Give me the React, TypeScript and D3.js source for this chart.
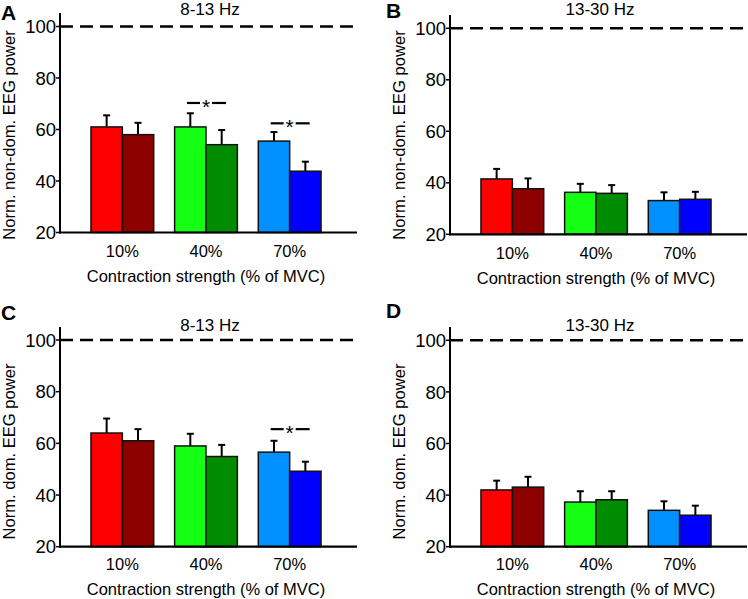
import React from "react";
import * as d3 from "d3";

// ---------- data ----------
const categories = ["10%", "40%", "70%"];
const seriesIdx = [0, 1];
const yTicks = [20, 40, 60, 80, 100];
const referenceLevel = 100;

const panelLetters = ["A", "B", "C", "D"];
const panelTitles = ["8-13 Hz", "13-30 Hz", "8-13 Hz", "13-30 Hz"];
const yLabels = [
  "Norm. non-dom. EEG power",
  "Norm. non-dom. EEG power",
  "Norm. dom. EEG power",
  "Norm. dom. EEG power",
];
const xLabel = "Contraction strength (% of MVC)";

// means per category [series1, series2]
const meansA = [[61.0, 58.0], [61.0, 54.1], [55.5, 43.8]];
const errA = [[4.5, 4.6], [5.3, 5.7], [3.5, 3.7]];
const meansB = [[41.5, 37.7], [36.3, 35.9], [33.1, 33.6]];
const errB = [[3.9, 4.0], [3.3, 3.2], [3.2, 2.9]];
const meansC = [[64.0, 61.0], [59.0, 54.9], [56.6, 49.2]];
const errC = [[5.6, 4.5], [4.7, 4.5], [4.4, 3.7]];
const meansD = [[42.0, 43.1], [37.3, 38.2], [34.1, 32.2]];
const errD = [[3.6, 4.0], [4.2, 3.3], [3.5, 3.7]];

// significance markers: category and level
const sigA = [{ cat: "40%", level: 70.3 }, { cat: "70%", level: 62.4 }];
const sigB: { cat: string; level: number }[] = [];
const sigC = [{ cat: "70%", level: 65.5 }];
const sigD: { cat: string; level: number }[] = [];

const barColors = [
  ["#ff0000", "#8c0000"],
  ["#14ff14", "#008c00"],
  ["#0090ff", "#0000ff"],
];

// ---------- layout ----------
const FONT = "'Liberation Sans', Arial, sans-serif";
const layouts = [
  { x0: 60, y100: 26.5, y20: 232.5, axisTop: 13, titleY: 15, letterX: 1, letterY: 20, tickY: 257, xTitleY: 282, yLabX: 15, yLabC: 135 },
  { x0: 450, y100: 28.3, y20: 234.3, axisTop: 15, titleY: 15, letterX: 386, letterY: 18, tickY: 259, xTitleY: 284, yLabX: 405, yLabC: 135 },
  { x0: 60, y100: 340, y20: 546.7, axisTop: 327, titleY: 331, letterX: 1, letterY: 320, tickY: 570, xTitleY: 595, yLabX: 15, yLabC: 451.5 },
  { x0: 450, y100: 340.3, y20: 546.7, axisTop: 327, titleY: 331, letterX: 386, letterY: 318, tickY: 570, xTitleY: 595, yLabX: 405, yLabC: 451.5 },
];
const panelMeans = [meansA, meansB, meansC, meansD];
const panelErr = [errA, errB, errC, errD];
const panelSig = [sigA, sigB, sigC, sigD];

function Panel({ idx }: { idx: number }) {
  const L = layouts[idx];
  const means = panelMeans[idx];
  const errs = panelErr[idx];
  const sig = panelSig[idx];
  const axisLen = 297;
  const y = d3.scaleLinear().domain([20, 100]).range([L.y20, L.y100]);
  const x = d3
    .scaleBand<string>()
    .domain(categories)
    .range([L.x0 + 20.5, L.x0 + 271.5])
    .paddingInner(0.25)
    .paddingOuter(0.125);
  const xs = d3
    .scaleBand<number>()
    .domain(seriesIdx)
    .range([0, x.bandwidth()]);
  const baseY = y(20);
  return (
    <g>
      {/* bars */}
      {categories.map((c, ci) =>
        seriesIdx.map((s) => {
          const bx = (x(c) as number) + (xs(s) as number);
          const bw = xs.bandwidth();
          const top = y(means[ci][s]);
          const et = y(means[ci][s] + errs[ci][s]);
          const cx = bx + bw / 2;
          return (
            <g key={c + s}>
              <line x1={cx} x2={cx} y1={top} y2={et} stroke="#000" strokeWidth={2} />
              <line x1={cx - 3.5} x2={cx + 3.5} y1={et} y2={et} stroke="#000" strokeWidth={2} />
              <rect x={bx} y={top} width={bw} height={baseY - top} fill={barColors[ci][s]} stroke="#111" strokeWidth={1.5} />
            </g>
          );
        })
      )}
      {/* reference dashed line */}
      <line
        x1={L.x0}
        x2={L.x0 + axisLen - 2}
        y1={y(referenceLevel)}
        y2={y(referenceLevel)}
        stroke="#000"
        strokeWidth={2.5}
        strokeDasharray="13,7"
      />
      {/* axes */}
      <line x1={L.x0} x2={L.x0} y1={L.axisTop} y2={baseY + 1} stroke="#000" strokeWidth={2} />
      <line x1={L.x0 - 1} x2={L.x0 + axisLen} y1={baseY} y2={baseY} stroke="#000" strokeWidth={2.2} />
      {yTicks.map((t) => (
        <g key={t}>
          <line x1={L.x0 - 4} x2={L.x0} y1={y(t)} y2={y(t)} stroke="#000" strokeWidth={1.5} />
          <text x={L.x0 - 4} y={y(t)} dy="0.36em" textAnchor="end" fontSize={18.5} fontFamily={FONT} fill="#000">
            {t}
          </text>
        </g>
      ))}
      {categories.map((c) => (
        <text key={c} x={(x(c) as number) + x.bandwidth() / 2} y={L.tickY} textAnchor="middle" fontSize={16.5} fontFamily={FONT} fill="#000">
          {c}
        </text>
      ))}
      <text x={(x("40%") as number) + x.bandwidth() / 2} y={L.xTitleY} textAnchor="middle" fontSize={16.5} fontFamily={FONT} fill="#000">
        {xLabel}
      </text>
      <text
        transform={`translate(${L.yLabX},${L.yLabC}) rotate(-90)`}
        textAnchor="middle"
        fontSize={16.6}
        fontFamily={FONT}
        fill="#000"
      >
        {yLabels[idx]}
      </text>
      <text x={(x("40%") as number) + x.bandwidth() / 2 + 4} y={L.titleY} textAnchor="middle" fontSize={17} fontFamily={FONT} fill="#000">
        {panelTitles[idx]}
      </text>
      <text x={L.letterX} y={L.letterY} fontSize={21} fontWeight="bold" fontFamily={FONT} fill="#000">
        {panelLetters[idx]}
      </text>
      {/* significance */}
      {sig.map((m) => {
        const cx = (x(m.cat) as number) + x.bandwidth() / 2;
        const yy = y(m.level);
        return (
          <g key={m.cat}>
            <line x1={cx - 19} x2={cx - 6} y1={yy} y2={yy} stroke="#000" strokeWidth={2.2} />
            <line x1={cx + 6} x2={cx + 20} y1={yy} y2={yy} stroke="#000" strokeWidth={2.2} />
            <text x={cx} y={yy + 11} textAnchor="middle" fontSize={21} fontFamily={FONT} fill="#000">
              *
            </text>
          </g>
        );
      })}
    </g>
  );
}

export default function App() {
  return (
    <svg
      width={748}
      height={599}
      style={{ position: "absolute", left: 0, top: 0, background: "#fff" }}
    >
      <rect width={748} height={599} fill="#fff" />
      {[0, 1, 2, 3].map((i) => (
        <Panel key={i} idx={i} />
      ))}
    </svg>
  );
}
